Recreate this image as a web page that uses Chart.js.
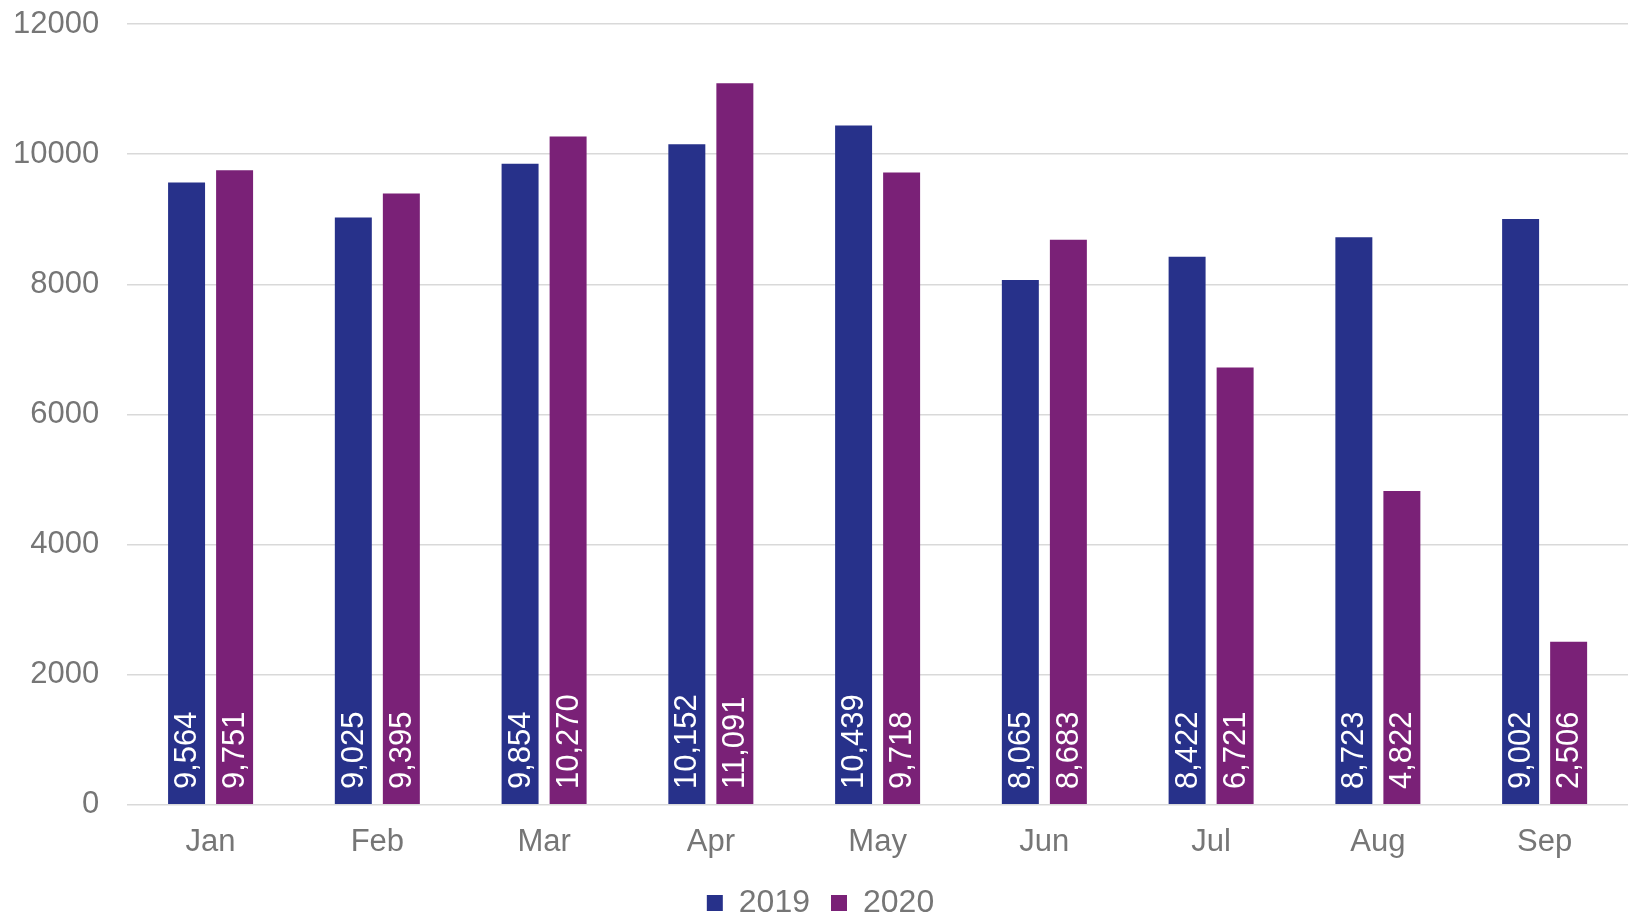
<!DOCTYPE html>
<html>
<head>
<meta charset="utf-8">
<script src="https://cdn.jsdelivr.net/npm/chart.js@4"></script>
<style>
    html, body { margin: 0; padding: 0; background: #fff; }
    #wrap { width: 1633px; height: 917px; }
</style>
</head>
<body>
<div id="wrap"><canvas id="monthChart" width="1633" height="917"></canvas></div>
<script>
// Monthly totals, 2019 vs 2020
const months = ['Jan', 'Feb', 'Mar', 'Apr', 'May', 'Jun', 'Jul', 'Aug', 'Sep'];
const values2019 = [9564, 9025, 9854, 10152, 10439, 8065, 8422, 8723, 9002];
const values2020 = [9751, 9395, 10270, 11091, 9718, 8683, 6721, 4822, 2506];
const yTicks = [0, 2000, 4000, 6000, 8000, 10000, 12000];

const colors = {
    blue: '#27318A',
    purple: '#7A2177',
    text: '#767676',
    grid: '#D9D9D9'
};
const fontFamily = '"Liberation Sans", Arial, sans-serif';

// Write each bar's value vertically, starting near the base of the bar
const barLabels = {
    id: 'barLabels',
    afterDatasetsDraw(chart) {
        const ctx = chart.ctx;
        ctx.save();
        ctx.fillStyle = '#FFFFFF';
        ctx.font = '31px ' + fontFamily;
        ctx.textAlign = 'left';
        ctx.textBaseline = 'middle';
        chart.data.datasets.forEach((ds, i) => {
            chart.getDatasetMeta(i).data.forEach((bar, j) => {
                const text = ds.data[j].toLocaleString('en-US');
                ctx.save();
                ctx.translate(bar.x + 1, bar.base - 15);
                ctx.rotate(-Math.PI / 2);
                ctx.fillText(text, 0, 0);
                ctx.restore();
            });
        });
        ctx.restore();
    }
};

const ctx = document.getElementById('monthChart').getContext('2d');
new Chart(ctx, {
    type: 'bar',
    data: {
        labels: months,
        datasets: [
            {
                label: '2019',
                data: values2019,
                backgroundColor: colors.blue,
                categoryPercentage: 0.576,
                barPercentage: 0.77
            },
            {
                label: '2020',
                data: values2020,
                backgroundColor: colors.purple,
                categoryPercentage: 0.576,
                barPercentage: 0.77
            }
        ]
    },
    options: {
        responsive: false,
        animation: false,
        layout: {
            padding: { top: 24, right: 5, left: 13, bottom: -12 }
        },
        plugins: {
            legend: {
                position: 'bottom',
                labels: {
                    boxWidth: 16,
                    boxHeight: 16,
                    padding: 21,
                    color: colors.text,
                    font: { size: 32, family: fontFamily }
                }
            },
            tooltip: { enabled: false }
        },
        scales: {
            x: {
                // invisible tick marks give the gap under the axis
                grid: {
                    drawOnChartArea: false,
                    tickLength: 14,
                    tickColor: 'transparent'
                },
                border: { display: false },
                ticks: {
                    color: colors.text,
                    padding: 5,
                    font: { size: 31, family: fontFamily }
                }
            },
            y: {
                min: 0,
                max: 12000,
                afterBuildTicks(axis) {
                    axis.ticks = yTicks.map(v => ({ value: v }));
                },
                grid: {
                    color: colors.grid,
                    lineWidth: 1.5,
                    tickLength: 28,
                    tickColor: 'transparent'
                },
                border: { display: false },
                ticks: {
                    color: colors.text,
                    padding: 0,
                    font: { size: 31, family: fontFamily },
                    callback: v => String(v)
                }
            }
        }
    },
    plugins: [barLabels]
});
</script>
</body>
</html>
